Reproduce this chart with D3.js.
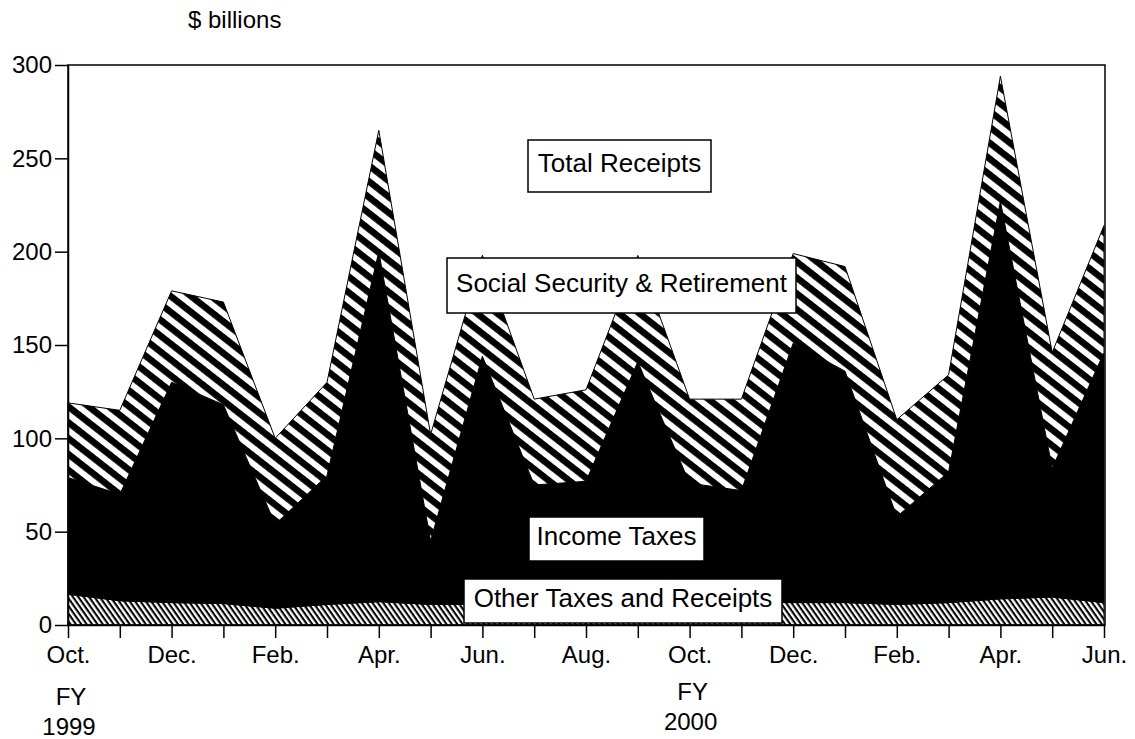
<!DOCTYPE html>
<html><head><meta charset="utf-8">
<script src="https://cdn.jsdelivr.net/npm/d3@7"></script>
<style>body{margin:0;background:#fff}svg{display:block}</style>
</head><body><svg id="c" width="1135" height="739"></svg>
<script>
// ---- data ($ billions, monthly, Oct FY1999 .. Jun FY2000) ----
const months = ["Oct.","Nov.","Dec.","Jan.","Feb.","Mar.","Apr.","May","Jun.","Jul.","Aug.","Sep.",
                "Oct.","Nov.","Dec.","Jan.","Feb.","Mar.","Apr.","May","Jun."];
const otherTaxes     = [16.5,13,12,11.5,9,11,12.5,11,11,11,11,12,12,12,12,12,11,12,14,15,12];
const incomeTaxes    = [62.5,57,118,106.5,45,69,187.5,34,133,64,66,129,64,60,139,124,47,70,213,69,134];
const socialSecurity = [40,45,49,55,46,50,65,57,54,46,49,57,45,49,48,56,52,52,67,62,68];
const yTicks = [0,50,100,150,200,250,300];
const fyIndex = [0,12];
const fyYears = ["1999","2000"];
const seriesLabels = ["Other Taxes and Receipts","Income Taxes","Social Security & Retirement","Total Receipts"];

// ---- layout ----
const svg = d3.select("#c");
const FONT = "'Liberation Sans', Arial, Helvetica, sans-serif";
const x = d3.scaleLinear().domain([0, months.length - 1]).range([68, 1104]);
const y = d3.scaleLinear().domain([0, 300]).range([625, 65]);

const defs = svg.append("defs");
const p1 = defs.append("pattern").attr("id","stripes").attr("patternUnits","userSpaceOnUse")
  .attr("width",12.5).attr("height",12.5).attr("patternTransform","rotate(38)");
p1.append("rect").attr("width",12.5).attr("height",12.5).attr("fill","#fff");
p1.append("rect").attr("width",12.5).attr("height",6.6).attr("fill","#000");
const p2 = defs.append("pattern").attr("id","hatch").attr("patternUnits","userSpaceOnUse")
  .attr("width",4.4).attr("height",4.4).attr("patternTransform","rotate(55)");
p2.append("rect").attr("width",4.4).attr("height",4.4).attr("fill","#fff");
p2.append("rect").attr("width",4.4).attr("height",2.1).attr("fill","#000");

const rows = months.map((m,i) => ({i, other: otherTaxes[i], income: incomeTaxes[i], ss: socialSecurity[i]}));
const stack = d3.stack().keys(["other","income","ss"])(rows);
const area = d3.area().x(d => x(d.data.i)).y0(d => y(d[0])).y1(d => y(d[1]));
const fills = {other: "url(#hatch)", income: "#000", ss: "url(#stripes)"};

svg.append("g").selectAll("path").data(stack).join("path")
  .attr("d", area).attr("fill", d => fills[d.key])
  .attr("stroke", "#000").attr("stroke-width", 1);

// frame
svg.append("rect").attr("x", x(0)).attr("y", y(300))
  .attr("width", x(months.length-1) - x(0) + 1).attr("height", y(0) - y(300))
  .attr("fill","none").attr("stroke","#000").attr("stroke-width",1.5);

// axes
const yAxis = svg.append("g").attr("transform", `translate(${x(0)},0)`)
  .call(d3.axisLeft(y).tickValues(yTicks).tickSize(13).tickSizeOuter(0).tickPadding(3));
const xAxis = svg.append("g").attr("transform", `translate(0,${y(0)})`)
  .call(d3.axisBottom(x).tickValues(d3.range(months.length)).tickSize(13).tickSizeOuter(0)
    .tickFormat(i => i % 2 === 0 ? months[i] : ""));
[yAxis, xAxis].forEach(g => {
  g.select(".domain").attr("stroke","#000").attr("stroke-width",1.5);
  g.selectAll(".tick line").attr("stroke","#000").attr("stroke-width",1.5);
  g.selectAll("text").attr("font-family", FONT).attr("font-size", 24).attr("fill","#000");
});
xAxis.selectAll(".tick text").attr("y", 38).attr("dy", 0);

// FY labels
fyIndex.forEach((idx, k) => {
  const off = k === 0 ? 5 : 0;
  svg.append("text").attr("x", x(idx) + 3).attr("y", 700 + off).attr("text-anchor","middle")
    .attr("font-family", FONT).attr("font-size", 24).text("FY");
  svg.append("text").attr("x", x(idx) + 1).attr("y", 730 + off).attr("text-anchor","middle")
    .attr("font-family", FONT).attr("font-size", 24).text(fyYears[k]);
});

// unit label
svg.append("text").attr("x", 188).attr("y", 28).attr("font-family", FONT).attr("font-size", 24)
  .text("$ billions");

// series labels (boxes)
const boxes = [
  {label: seriesLabels[3], x0: 528, y0: 140, w: 183, h: 52, base: 32},
  {label: seriesLabels[2], x0: 447, y0: 258, w: 349, h: 55, base: 34},
  {label: seriesLabels[1], x0: 529, y0: 517, w: 175, h: 44, base: 28},
  {label: seriesLabels[0], x0: 464, y0: 579, w: 318, h: 44, base: 28}
];
const bg = svg.append("g").selectAll("g").data(boxes).join("g");
bg.append("rect").attr("x", d => d.x0).attr("y", d => d.y0).attr("width", d => d.w).attr("height", d => d.h)
  .attr("fill","#fff").attr("stroke","#000").attr("stroke-width",1.5);
bg.append("text").attr("x", d => d.x0 + d.w/2).attr("y", d => d.y0 + d.base).attr("text-anchor","middle")
  .attr("font-family", FONT).attr("font-size", 26).text(d => d.label);
</script></body></html>
